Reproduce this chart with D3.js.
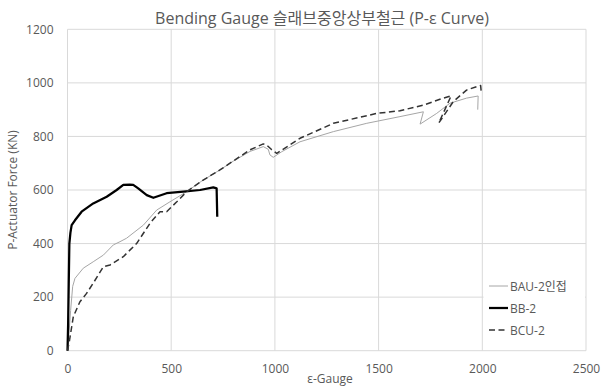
<!DOCTYPE html>
<html>
<head>
<meta charset="utf-8">
<script src="https://cdn.jsdelivr.net/npm/d3@7"></script>
<style>
  html, body { margin: 0; padding: 0; background: #fff; }
  svg { display: block; font-family: "Open Sans", "Noto Sans CJK KR", sans-serif; }
</style>
</head>
<body>
<svg id="chart" width="602" height="387"></svg>
<script>
// Axis ticks
const xTicks = [0, 500, 1000, 1500, 2000, 2500];
const yTicks = [0, 200, 400, 600, 800, 1000, 1200];

// Series names
const seriesNames = ["BAU-2인접", "BB-2", "BCU-2"];

// BAU-2인접 : strain (με) and load (kN)
const bauStrain = [0, 5, 15, 25, 36, 76, 124, 173, 221, 253, 285, 366, 430, 494, 575, 650, 735, 800, 880, 944, 968, 976, 992, 1033, 1121, 1282, 1443, 1603, 1716, 1700, 1780, 1844, 1924, 1980, 1978];
const bauLoad   = [0, 40, 150, 240, 270, 308, 332, 357, 395, 407, 420, 469, 525, 556, 594, 635, 675, 708, 744, 762, 752, 731, 722, 743, 780, 818, 849, 874, 892, 846, 886, 924, 943, 951, 900];

// BB-2
const bbStrain = [0, 3, 6, 9, 14, 20, 36, 68, 124, 189, 237, 269, 300, 317, 341, 382, 414, 478, 558, 639, 703, 719, 722];
const bbLoad   = [0, 100, 250, 400, 440, 469, 487, 519, 550, 575, 600, 619, 620, 619, 606, 581, 571, 588, 594, 600, 610, 606, 500];

// BCU-2
const bcuStrain = [0, 10, 28, 60, 92, 124, 173, 205, 269, 334, 398, 446, 478, 527, 575, 650, 735, 880, 944, 960, 985, 1009, 1121, 1282, 1491, 1603, 1716, 1800, 1850, 1790, 1860, 1924, 1980, 1992, 1995];
const bcuLoad   = [0, 40, 127, 183, 214, 252, 314, 320, 351, 401, 476, 519, 519, 556, 594, 635, 675, 750, 772, 768, 750, 737, 793, 849, 886, 896, 917, 940, 952, 850, 930, 973, 988, 990, 965];

const series = [
  { name: seriesNames[0], xs: bauStrain, ys: bauLoad, color: "#a6a6a6", width: 1, dash: null },
  { name: seriesNames[1], xs: bbStrain, ys: bbLoad, color: "#000000", width: 2.25, dash: null },
  { name: seriesNames[2], xs: bcuStrain, ys: bcuLoad, color: "#333333", width: 1.5, dash: "6,3.5" }
];

const svg = d3.select("#chart");
const plot = { left: 67.5, right: 586, top: 29.3, bottom: 350.7 };

const x = d3.scaleLinear().domain([0, 2500]).range([plot.left, plot.right]);
const y = d3.scaleLinear().domain([0, 1200]).range([plot.bottom, plot.top]);

const textColor = "#595959";
const gridColor = "#d9d9d9";

// Gridlines
svg.append("g")
  .selectAll("line")
  .data(yTicks)
  .join("line")
  .attr("x1", plot.left).attr("x2", plot.right)
  .attr("y1", d => y(d)).attr("y2", d => y(d))
  .attr("stroke", gridColor).attr("stroke-width", 1);

svg.append("g")
  .selectAll("line")
  .data(xTicks)
  .join("line")
  .attr("x1", d => x(d)).attr("x2", d => x(d))
  .attr("y1", plot.top).attr("y2", plot.bottom)
  .attr("stroke", gridColor).attr("stroke-width", 1);

// Axes (labels only)
const fmt = d3.format("d");
const xAxis = svg.append("g")
  .attr("transform", `translate(0,${plot.bottom})`)
  .call(d3.axisBottom(x).tickValues(xTicks).tickFormat(fmt).tickSize(0).tickPadding(14));
const yAxis = svg.append("g")
  .attr("transform", `translate(${plot.left},0)`)
  .call(d3.axisLeft(y).tickValues(yTicks).tickFormat(fmt).tickSize(0).tickPadding(14));
[xAxis, yAxis].forEach(a => {
  a.select(".domain").remove();
  a.selectAll("text")
    .attr("fill", textColor)
    .style("font-family", "'Open Sans', sans-serif")
    .style("font-size", "12px");
});

// Series lines
const line = d3.line()
  .x(d => x(d[0]))
  .y(d => y(d[1]));

svg.append("g")
  .selectAll("path")
  .data(series)
  .join("path")
  .attr("d", s => line(s.xs.map((v, i) => [v, s.ys[i]])))
  .attr("fill", "none")
  .attr("stroke", s => s.color)
  .attr("stroke-width", s => s.width)
  .attr("stroke-dasharray", s => s.dash)
  .attr("stroke-linejoin", "round");

// Title
svg.append("text")
  .attr("x", 322).attr("y", 24)
  .attr("text-anchor", "middle")
  .attr("fill", textColor)
  .style("font-size", "16px")
  .text("Bending Gauge 슬래브중앙상부철근 (P-ε Curve)");

// Axis titles
svg.append("text")
  .attr("x", 330).attr("y", 383)
  .attr("text-anchor", "middle")
  .attr("fill", textColor)
  .style("font-size", "12px")
  .text("ε-Gauge");

svg.append("text")
  .attr("transform", `translate(17,${(plot.top + plot.bottom) / 2}) rotate(-90)`)
  .attr("text-anchor", "middle")
  .attr("fill", textColor)
  .style("font-size", "12px")
  .text("P-Actuator Force (KN)");

// Legend
const legend = svg.append("g");
legend.append("rect")
  .attr("x", 483.5).attr("y", 274)
  .attr("width", plot.right - 484.5).attr("height", 70)
  .attr("fill", "#fff");

const legendRows = legend.selectAll("g")
  .data(series)
  .join("g")
  .attr("transform", (d, i) => `translate(0,${286 + i * 22})`);

legendRows.append("line")
  .attr("x1", 489).attr("x2", 508)
  .attr("y1", 0).attr("y2", 0)
  .attr("stroke", d => d.color)
  .attr("stroke-width", d => d.width)
  .attr("stroke-dasharray", d => d.dash);

legendRows.append("text")
  .attr("x", 510).attr("y", 4.5)
  .attr("fill", textColor)
  .style("font-size", "12px")
  .text(d => d.name);
</script>
</body>
</html>
